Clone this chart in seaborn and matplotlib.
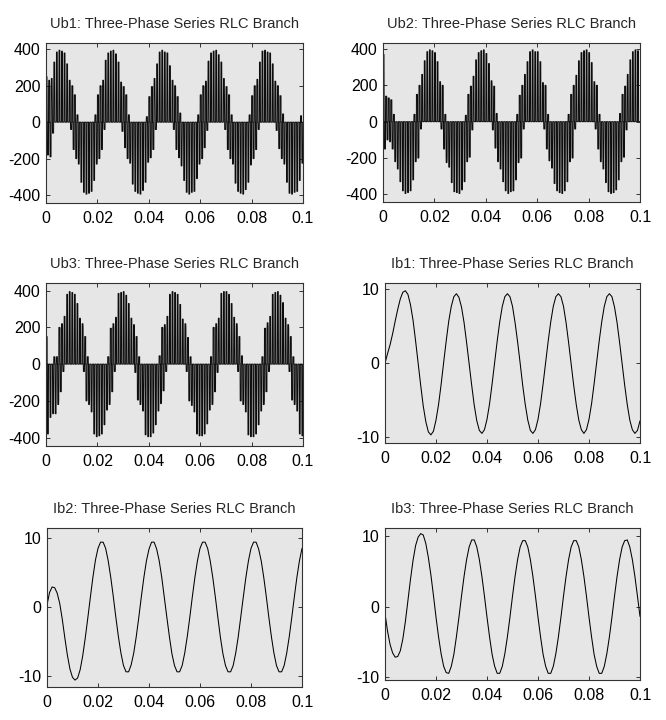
import numpy as np
import matplotlib
matplotlib.use("Agg")
import matplotlib.pyplot as plt
import seaborn as sns

# ---------------- data ----------------
# current samples, one per millisecond (0 ... 100 ms)
t_ms = list(range(0, 101))

ib1 = [0.0, 1.3, 2.5, 4.0, 5.7, 7.3, 8.7, 9.6, 9.8, 9.3, 7.9, 5.8, 3.0, 0.0, -3.0, -5.8, -7.9, -9.3, -9.7, -9.2,
       -7.7, -5.6, -2.9, 0.1, 3.0, 5.7, 7.7, 9.0, 9.4, 8.9, 7.6, 5.5, 2.8, -0.1, -3.0, -5.7, -7.8, -9.1, -9.5, -9.0,
       -7.6, -5.5, -2.8, 0.1, 3.0, 5.6, 7.7, 9.0, 9.4, 9.0, 7.7, 5.5, 2.9, 0.0, -3.0, -5.6, -7.7, -9.1, -9.5, -9.0,
       -7.6, -5.5, -2.8, 0.1, 3.0, 5.6, 7.7, 9.0, 9.4, 9.0, 7.7, 5.5, 2.8, -0.1, -3.0, -5.6, -7.7, -9.0, -9.5, -9.0,
       -7.6, -5.5, -2.8, 0.1, 3.0, 5.6, 7.7, 9.0, 9.4, 9.0, 7.6, 5.5, 2.8, -0.1, -3.0, -5.6, -7.7, -9.0, -9.5, -9.1,
       -7.8]

ib2 = [0.3, 2.1, 2.9, 2.8, 2.0, 0.5, -1.8, -4.5, -7.0, -9.0, -10.2, -10.6, -10.3, -9.1, -7.1, -4.5, -1.6, 1.4, 4.3, 6.8,
       8.5, 9.4, 9.4, 8.5, 6.7, 4.3, 1.5, -1.5, -4.3, -6.7, -8.5, -9.4, -9.4, -8.4, -6.7, -4.3, -1.5, 1.5, 4.3, 6.7,
       8.4, 9.4, 9.4, 8.4, 6.7, 4.3, 1.4, -1.5, -4.3, -6.8, -8.5, -9.4, -9.4, -8.5, -6.7, -4.3, -1.5, 1.5, 4.3, 6.7,
       8.5, 9.4, 9.4, 8.5, 6.7, 4.3, 1.5, -1.5, -4.4, -6.8, -8.5, -9.4, -9.4, -8.5, -6.7, -4.3, -1.4, 1.5, 4.3, 6.7,
       8.5, 9.4, 9.4, 8.4, 6.7, 4.3, 1.5, -1.5, -4.3, -6.7, -8.5, -9.4, -9.4, -8.5, -6.7, -4.3, -1.5, 1.5, 4.3, 6.7,
       8.5]

ib3 = [-1.0, -3.5, -5.4, -6.6, -7.2, -7.1, -6.3, -4.6, -2.1, 0.9, 3.9, 6.6, 8.7, 9.9, 10.4, 10.2, 9.0, 7.0, 4.5, 1.6,
       -1.5, -4.3, -6.7, -8.5, -9.4, -9.5, -8.5, -6.8, -4.3, -1.5, 1.5, 4.3, 6.7, 8.5, 9.5, 9.5, 8.5, 6.7, 4.3, 1.5,
       -1.5, -4.3, -6.8, -8.5, -9.5, -9.5, -8.5, -6.7, -4.3, -1.5, 1.5, 4.3, 6.7, 8.5, 9.4, 9.4, 8.5, 6.7, 4.3, 1.5,
       -1.5, -4.3, -6.8, -8.5, -9.5, -9.5, -8.5, -6.7, -4.3, -1.5, 1.5, 4.3, 6.7, 8.5, 9.4, 9.4, 8.5, 6.7, 4.3, 1.5,
       -1.5, -4.3, -6.8, -8.5, -9.5, -9.5, -8.5, -6.7, -4.3, -1.5, 1.5, 4.3, 6.7, 8.5, 9.4, 9.5, 8.5, 6.7, 4.3, 1.5,
       -1.4]

# branch voltages: upper / lower switching level reached in each 1 ms slot
ub1_hi = [250, 230, 240, 330, 385, 395, 390, 380, 320, 230, 200, 150, 40, 0, 0, 0, 0, 0, 0, 40,
          150, 200, 230, 340, 380, 390, 395, 375, 330, 220, 195, 150, 40, 0, 0, 0, 0, 0, 0, 30,
          140, 195, 240, 320, 385, 395, 385, 380, 310, 230, 200, 140, 50, 0, 0, 0, 0, 0, 0, 40,
          150, 200, 225, 335, 380, 390, 395, 370, 330, 240, 195, 150, 40, 0, 0, 0, 0, 0, 0, 40,
          145, 200, 235, 330, 390, 395, 385, 380, 320, 225, 200, 145, 45, 0, 0, 0, 0, 0, 0, 35]
ub1_lo = [-180, -190, -60, 0, 0, 0, 0, 0, 0, -40, -150, -200, -230, -330, -385, -395, -390, -380, -320, -230,
          -200, -150, -40, 0, 0, 0, 0, 0, 0, -50, -140, -200, -225, -340, -380, -390, -395, -375, -330, -220,
          -195, -150, -40, 0, 0, 0, 0, 0, 0, -40, -150, -195, -240, -320, -385, -395, -385, -380, -310, -230,
          -200, -140, -45, 0, 0, 0, 0, 0, 0, -40, -150, -200, -230, -335, -380, -390, -395, -370, -330, -235,
          -200, -150, -40, 0, 0, 0, 0, 0, 0, -45, -145, -200, -230, -330, -390, -395, -385, -380, -320, -225]

ub2_hi = [370, 140, 130, 120, 40, 0, 0, 0, 0, 0, 0, 0, 40, 150, 200, 260, 335, 385, 395, 390,
          380, 330, 220, 200, 40, 0, 0, 0, 0, 0, 0, 0, 35, 150, 195, 250, 340, 380, 390, 395,
          375, 320, 225, 195, 45, 0, 0, 0, 0, 0, 0, 0, 40, 145, 200, 260, 330, 385, 395, 385,
          385, 330, 215, 200, 40, 0, 0, 0, 0, 0, 0, 0, 40, 150, 200, 255, 335, 380, 390, 395,
          380, 325, 220, 200, 40, 0, 0, 0, 0, 0, 0, 0, 45, 150, 195, 260, 340, 385, 395, 390]
ub2_lo = [-150, -100, -110, -150, -220, -260, -330, -380, -395, -390, -380, -320, -220, -200, -40, 0, 0, 0, 0, 0,
          0, 0, -40, -150, -225, -250, -335, -385, -390, -395, -375, -330, -220, -195, -45, 0, 0, 0, 0, 0,
          0, 0, -45, -145, -220, -260, -330, -380, -395, -385, -380, -320, -225, -200, -40, 0, 0, 0, 0, 0,
          0, 0, -40, -150, -215, -255, -340, -380, -390, -395, -380, -330, -220, -200, -40, 0, 0, 0, 0, 0,
          0, 0, -40, -150, -220, -260, -335, -385, -395, -390, -375, -320, -220, -195, -45, 0, 0, 0, 0, 0]

ub3_hi = [150, 0, 0, 40, 40, 200, 220, 260, 380, 395, 390, 380, 330, 250, 220, 150, 40, 0, 0, 0,
          0, 0, 0, 0, 40, 195, 220, 255, 385, 390, 395, 375, 330, 250, 215, 150, 40, 0, 0, 0,
          0, 0, 0, 0, 45, 200, 215, 260, 380, 395, 390, 380, 325, 245, 220, 145, 40, 0, 0, 0,
          0, 0, 0, 0, 40, 200, 220, 250, 385, 395, 395, 380, 330, 255, 220, 150, 45, 0, 0, 0,
          0, 0, 0, 0, 40, 195, 225, 260, 380, 390, 395, 375, 335, 250, 215, 150, 40, 0, 0, 0]
ub3_lo = [-380, -290, -270, -270, -220, -150, -40, 0, 0, 0, 0, 0, 0, 0, -40, -200, -220, -260, -380, -395,
          -390, -380, -330, -250, -220, -150, -40, 0, 0, 0, 0, 0, 0, 0, -45, -195, -220, -255, -385, -395,
          -395, -375, -330, -255, -215, -145, -40, 0, 0, 0, 0, 0, 0, 0, -40, -200, -225, -260, -380, -390,
          -390, -380, -325, -250, -220, -150, -45, 0, 0, 0, 0, 0, 0, 0, -40, -200, -220, -260, -385, -395,
          -395, -380, -330, -255, -220, -150, -40, 0, 0, 0, 0, 0, 0, 0, -40, -195, -220, -255, -380, -390]

# intermediate inverter level (one third of the DC link)
v_mid = 197

titles = ["Ub1: Three-Phase Series RLC Branch", "Ub2: Three-Phase Series RLC Branch",
          "Ub3: Three-Phase Series RLC Branch", "Ib1: Three-Phase Series RLC Branch",
          "Ib2: Three-Phase Series RLC Branch", "Ib3: Three-Phase Series RLC Branch"]
x_ticks = [0, 0.02, 0.04, 0.06, 0.08, 0.1]
x_ticklabels = ["0", "0.02", "0.04", "0.06", "0.08", "0.1"]
u_ticks = [-400, -200, 0, 200, 400]
i_ticks = [-10, 0, 10]


def pulse_path(hi, lo, slot_ms=1.0):
    """Switching trace: in each slot a positive pulse (briefly passing the
    intermediate level) followed by a negative pulse, zero in between."""
    fr = [0.00, 0.02, 0.06, 0.08, 0.37, 0.39, 0.43, 0.45,
          0.52, 0.54, 0.58, 0.60, 0.89, 0.91, 0.95, 0.97]
    xs, ys = [], []
    for i, (h, l) in enumerate(zip(hi, lo)):
        mh = min(h, v_mid)
        ml = max(l, -v_mid)
        lv = [0, mh, mh, h, h, mh, mh, 0,
              0, ml, ml, l, l, ml, ml, 0]
        xs.extend((i + np.array(fr)) * slot_ms / 1000.0)
        ys.extend(lv)
    xs.append(len(hi) * slot_ms / 1000.0)
    ys.append(0)
    return np.array(xs), np.array(ys)


# ---------------- style ----------------
sns.set_style("ticks")
plt.rcParams["font.family"] = ["Liberation Sans", "DejaVu Sans"]
plt.rcParams.update({
    "axes.unicode_minus": False,
    "axes.facecolor": "#e6e6e6",
    "axes.edgecolor": "#333333",
    "axes.linewidth": 0.8,
    "xtick.direction": "in",
    "ytick.direction": "in",
    "xtick.top": True,
    "ytick.right": True,
    "xtick.major.size": 3.2,
    "ytick.major.size": 3.2,
    "xtick.major.width": 0.7,
    "ytick.major.width": 0.7,
    "xtick.color": "#333333",
    "ytick.color": "#333333",
    "xtick.labelcolor": "black",
    "ytick.labelcolor": "black",
    "xtick.labelsize": 11.5,
    "ytick.labelsize": 11.5,
    "xtick.major.pad": 6,
    "ytick.major.pad": 4,
})

fig = plt.figure(figsize=(6.66, 7.2), dpi=100)
W, H = 666.0, 720.0


def add_axes(x0, y0, x1, y1):
    return fig.add_axes([x0 / W, 1 - y1 / H, (x1 - x0) / W, (y1 - y0) / H])


axes = [
    add_axes(46, 43, 303, 203),
    add_axes(383, 43, 640, 202),
    add_axes(46, 283, 303, 446),
    add_axes(385, 283, 640, 443),
    add_axes(47, 528, 302, 687),
    add_axes(385, 528, 640, 680),
]
ylims = [(-444, 435), (-442, 433), (-446, 442), (-10.8, 10.85), (-11.6, 11.45), (-10.45, 11.2)]

t_s = np.array(t_ms) / 1000.0
volt = [(ub1_hi, ub1_lo), (ub2_hi, ub2_lo), (ub3_hi, ub3_lo)]
curr = [ib1, ib2, ib3]

for k, ax in enumerate(axes):
    if k < 3:
        xs, ys = pulse_path(*volt[k])
        sns.lineplot(x=xs, y=ys, ax=ax, color="#0d0d0d", linewidth=0.75,
                     sort=False, estimator=None)
        ax.set_yticks(u_ticks)
    else:
        sns.lineplot(x=t_s, y=curr[k - 3], ax=ax, color="black", linewidth=0.75,
                     sort=False, estimator=None)
        ax.set_yticks(i_ticks)
    ax.set_xlim(0, 0.1)
    ax.set_ylim(*ylims[k])
    ax.set_xticks(x_ticks)
    ax.set_xticklabels(x_ticklabels)
    ax.set_title(titles[k], fontsize=10.5, pad=11)
    ax.set_xlabel("")
    ax.set_ylabel("")

fig.savefig("out.png", dpi=100, facecolor="white")
